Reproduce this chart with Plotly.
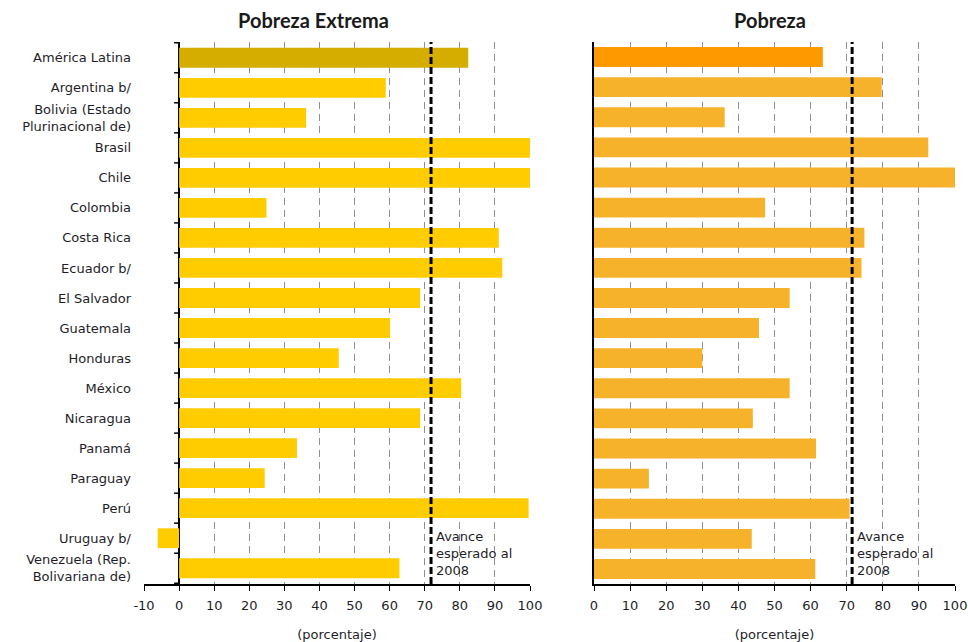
import plotly.graph_objects as go

categories = [
    "América Latina", "Argentina b/", "Bolivia (Estado<br>Plurinacional de)", "Brasil", "Chile",
    "Colombia", "Costa Rica", "Ecuador b/", "El Salvador", "Guatemala", "Honduras",
    "México", "Nicaragua", "Panamá", "Paraguay", "Perú", "Uruguay b/",
    "Venezuela (Rep.<br>Bolivariana de)",
]
pobreza_extrema = [82.4, 58.9, 36.2, 100, 100, 24.9, 91.1, 92.1, 68.7, 60.1, 45.5,
                   80.4, 68.7, 33.6, 24.4, 99.6, -6.1, 62.8]
pobreza = [63.4, 79.7, 36.2, 92.6, 100, 47.4, 74.9, 74.1, 54.2, 45.7, 30.0,
           54.2, 44.0, 61.5, 15.2, 70.8, 43.7, 61.3]
avance_esperado_ext = 71.8
avance_esperado_pob = 71.5
left_ticks = [-10, 0, 10, 20, 30, 40, 50, 60, 70, 80, 90, 100]
left_ticktext = ["-10", "0", "10", "20", "30", "40", "50", "60", "70", "80", "90", "100"]
right_ticks = [0, 10, 20, 30, 40, 50, 60, 70, 80, 90, 100]
right_ticktext = ["0", "10", "20", "30", "40", "50", "60", "70", "80", "90", "100"]
annot_text = "Avance<br>esperado al<br>2008"

W, H = 968, 642
col_ext = ["#D5AD00"] + ["#FFCC00"] * (len(categories) - 1)
col_pob = ["#FF9900"] + ["#F7B22C"] * (len(categories) - 1)

fig = go.Figure()
fig.add_trace(go.Bar(y=categories, x=pobreza_extrema, orientation="h",
                     marker=dict(color=col_ext, line=dict(width=0)), width=0.66,
                     xaxis="x", yaxis="y", hoverinfo="x+y"))
fig.add_trace(go.Bar(y=categories, x=pobreza, orientation="h",
                     marker=dict(color=col_pob, line=dict(width=0)), width=0.66,
                     xaxis="x2", yaxis="y2", hoverinfo="x+y"))

tickfont = dict(family="DejaVu Sans, sans-serif", size=13, color="#1e1e28")
grid = dict(showgrid=True, gridcolor="#8f8f8f", gridwidth=1, griddash="7px,5px")

fig.update_layout(
    width=W, height=H,
    margin=dict(l=0, r=0, t=42, b=58, autoexpand=False),
    paper_bgcolor="white", plot_bgcolor="white",
    showlegend=False, bargap=0.34,
    xaxis=dict(domain=[144 / W, 530 / W], range=[-10, 100], tickvals=left_ticks,
               ticktext=left_ticktext, automargin=False,
               showline=True, linecolor="black", linewidth=1.5,
               ticks="outside", ticklen=5, tickcolor="black", tickwidth=1.2,
               zeroline=True, zerolinecolor="black", zerolinewidth=1.5,
               tickfont=tickfont, ticklabelstandoff=4, anchor="y",
               title=dict(text="(porcentaje)", font=tickfont, standoff=18), **grid),
    yaxis=dict(domain=[0, 1], type="category", categoryorder="array", categoryarray=categories,
               autorange="reversed", showline=False, ticks="", showgrid=False, automargin=False,
               tickfont=tickfont, ticklabelstandoff=12, anchor="x"),
    xaxis2=dict(domain=[594 / W, 955 / W], range=[0, 100], tickvals=right_ticks,
                ticktext=right_ticktext, automargin=False,
                showline=True, linecolor="black", linewidth=1.5,
                ticks="outside", ticklen=5, tickcolor="black", tickwidth=1.2,
                zeroline=False, tickfont=tickfont, ticklabelstandoff=4, anchor="y2",
                title=dict(text="(porcentaje)", font=tickfont, standoff=18), **grid),
    yaxis2=dict(domain=[0, 1], type="category", categoryorder="array", categoryarray=categories,
                autorange="reversed", showline=True, linecolor="black", linewidth=1.5,
                ticks="", showticklabels=False, showgrid=False, anchor="x2", automargin=False),
)

shapes = []
# category boundary ticks on the left panel's zero axis
for i in range(len(categories) + 1):
    shapes.append(dict(type="line", xref="x", yref="y", xsizemode="pixel", xanchor=0,
                       x0=-5, x1=0, y0=i - 0.5, y1=i - 0.5,
                       line=dict(color="black", width=1.5)))
for xr, yr, v in (("x", "y domain", avance_esperado_ext), ("x2", "y2 domain", avance_esperado_pob)):
    shapes.append(dict(type="line", xref=xr, yref=yr, x0=v, x1=v, y0=0, y1=1,
                       line=dict(color="black", width=3, dash="7px,3px"), layer="above"))
fig.update_layout(shapes=shapes)

title_font = dict(family="Lato, sans-serif", size=20, color="#1a1a1a")
annotations = [
    dict(text="<b>Pobreza Extrema</b>", xref="paper", yref="paper", x=313 / W, y=1 + 22 / 542,
         showarrow=False, font=title_font, xanchor="center", yanchor="middle"),
    dict(text="<b>Pobreza</b>", xref="paper", yref="paper", x=770 / W, y=1 + 22 / 542,
         showarrow=False, font=title_font, xanchor="center", yanchor="middle"),
]
for xr, yr, v in (("x", "y", avance_esperado_ext), ("x2", "y2", avance_esperado_pob)):
    annotations.append(dict(text=annot_text, xref=xr, yref=yr, x=v, y=len(categories) - 1.5,
                            xanchor="left", yanchor="middle", xshift=3, yshift=0, align="left",
                            showarrow=False, font=tickfont, bgcolor="rgba(0,0,0,0)"))
fig.update_layout(annotations=annotations)

fig.write_html("out.html", config={"displayModeBar": False},
               post_script="document.body.style.margin='0';document.body.style.overflow='hidden';")
